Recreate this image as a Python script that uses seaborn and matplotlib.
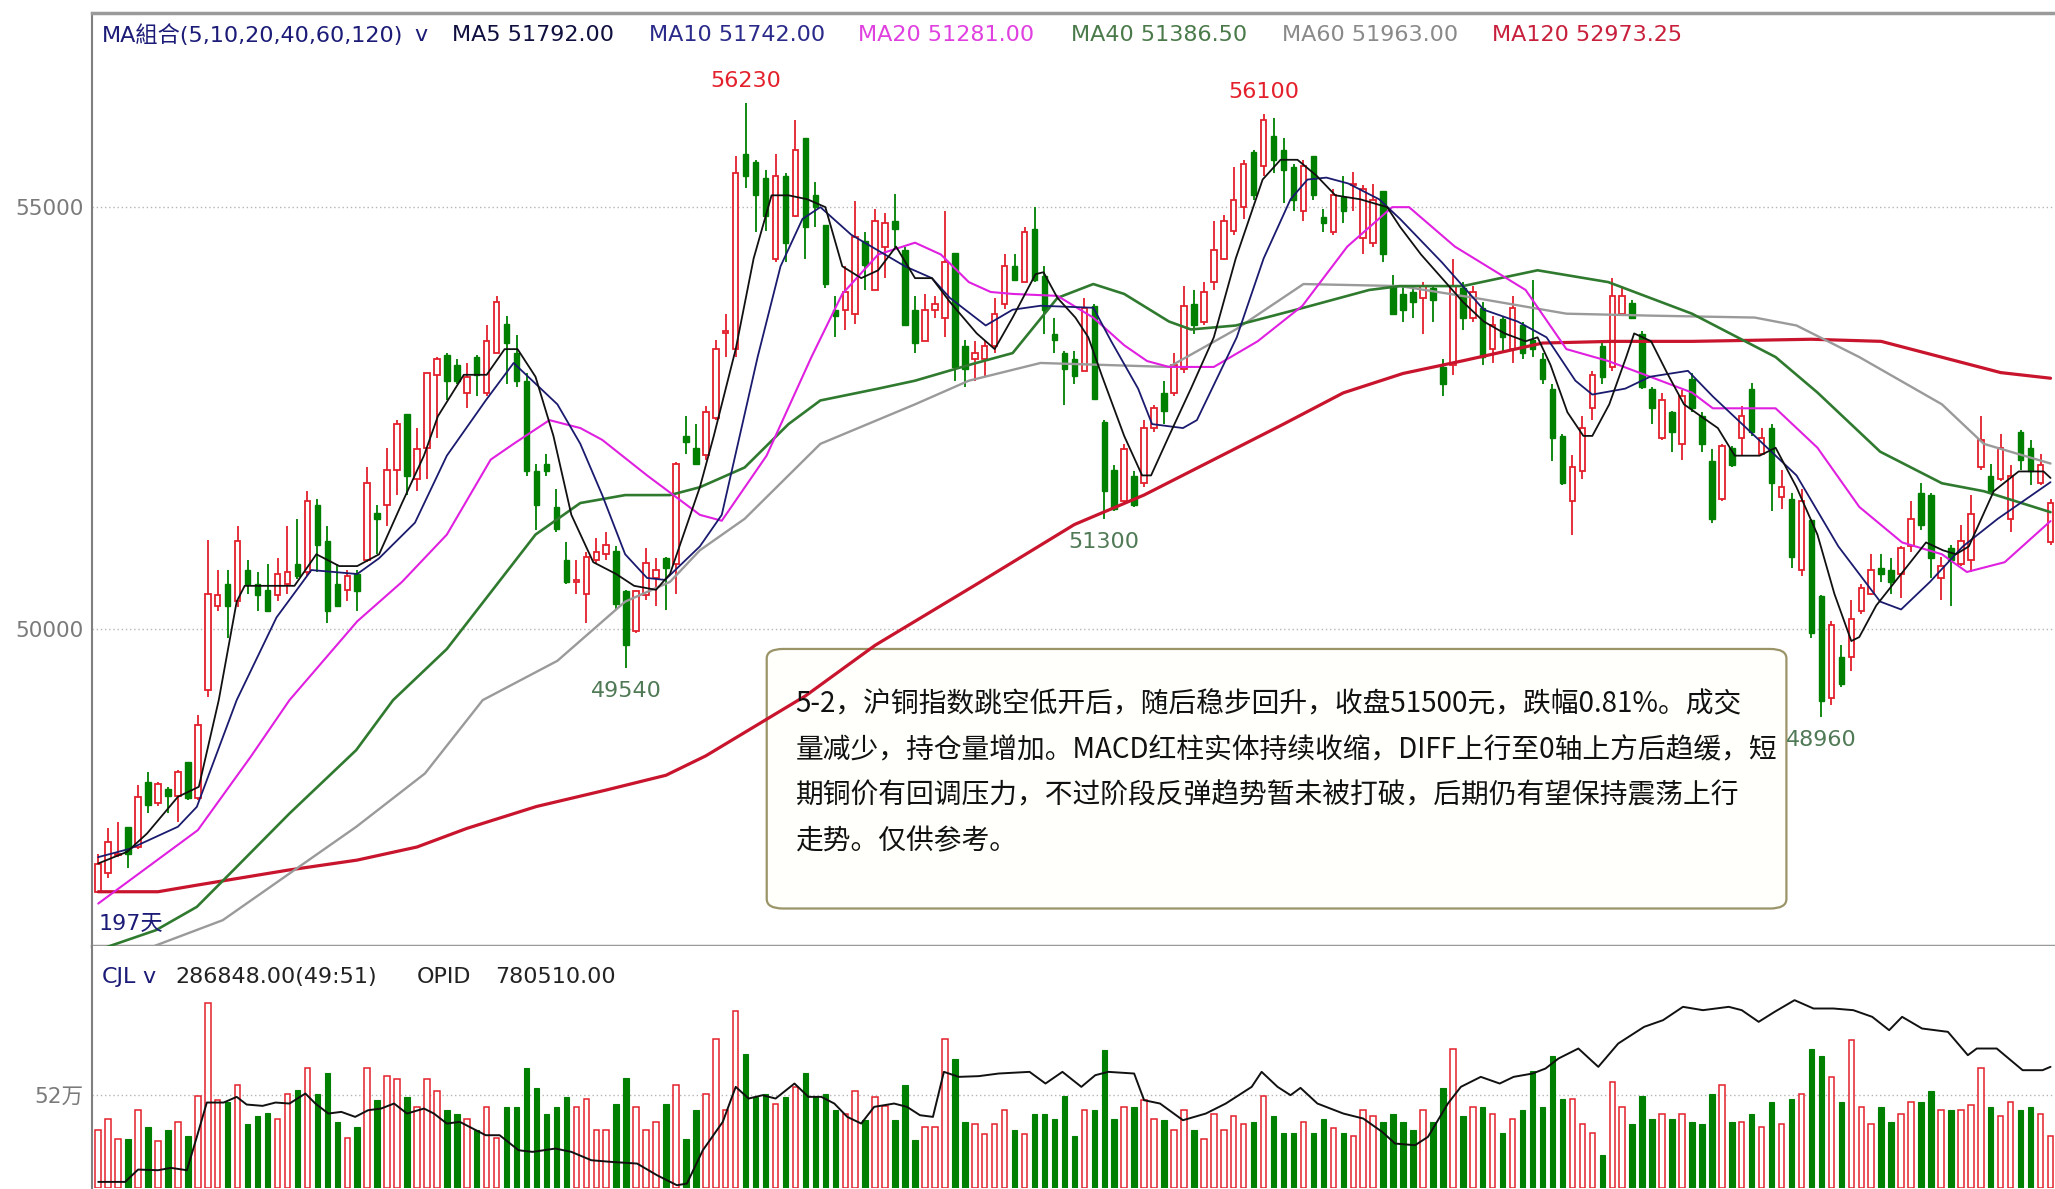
import numpy as np
import seaborn as sns
import matplotlib.pyplot as plt
from matplotlib import font_manager
from matplotlib.patches import FancyBboxPatch

# 沪铜指数日K线, 197根, 数值按截图估读
opens = [46890, 47110, 47320, 47660, 47420, 48190, 47940, 48110, 48020, 48430,
         48000, 49280, 50280, 50540, 50330, 50700, 50540, 50470, 50400, 50540,
         50770, 50680, 51470, 51050, 50540, 50470, 50650, 50820, 51380, 51470,
         51890, 52550, 51780, 52150, 53010, 53250, 53130, 52800, 53220, 52800,
         53270, 53620, 53270, 52940, 51870, 51960, 51450, 50820, 50560, 50420,
         50820, 50890, 50930, 50450, 49980, 50400, 50610, 50840, 50770, 52290,
         52150, 52060, 52500, 53510, 53320, 55630, 55540, 55350, 54390, 55370,
         54900, 55820, 55140, 54790, 53780, 53780, 53740, 54600, 54020, 54530,
         54840, 54490, 53780, 53410, 53780, 53690, 54460, 53360, 53200, 53200,
         53360, 53850, 54300, 54110, 54740, 54180, 53500, 53270, 53200, 53060,
         53830, 52450, 51890, 51520, 51820, 51730, 52380, 52800, 52800, 53080,
         53850, 53640, 54110, 54390, 54720, 55000, 55650, 55490, 55840, 55680,
         55470, 54950, 55610, 54880, 54700, 55120, 55260, 54630, 54580, 55190,
         54070, 53970, 54000, 53920, 54040, 53110, 53130, 54040, 53690, 53810,
         53320, 53670, 53320, 53600, 53430, 53200, 52850, 52290, 51520, 51870,
         52620, 53360, 53110, 53740, 53860, 53500, 52850, 52270, 52570, 52200,
         52970, 52520, 51990, 51540, 52150, 52270, 52850, 52080, 52380, 51570,
         51540, 50700, 51290, 50390, 49180, 49670, 49670, 50210, 50420, 50720,
         50700, 50650, 50980, 51610, 51590, 50610, 50960, 50770, 50820, 51920,
         51820, 51780, 51310, 52340, 52150, 51730, 51030]
highs = [47340, 47640, 47720, 47660, 48150, 48310, 48190, 48130, 48330, 48430,
         48980, 51060, 50700, 50700, 51220, 50820, 50680, 50770, 50840, 51220,
         51310, 51640, 51540, 51220, 50770, 50700, 50700, 51920, 51470, 52150,
         52480, 52550, 52380, 53040, 53220, 53270, 53200, 53150, 53250, 53600,
         53950, 53710, 53480, 53040, 51960, 52080, 51660, 51030, 50820, 50910,
         51080, 51150, 50980, 50470, 50470, 50960, 50840, 50860, 51980, 52520,
         52430, 52640, 53430, 53740, 55610, 56230, 55560, 55440, 55630, 55400,
         56030, 55820, 55300, 54790, 53950, 54300, 55070, 54700, 54980, 54930,
         55160, 54530, 53950, 53970, 53950, 54950, 54460, 53430, 53410, 53410,
         53920, 54440, 54440, 54770, 55000, 54300, 53690, 53290, 53300, 53920,
         53850, 52480, 51940, 52200, 51870, 52480, 52660, 52940, 53270, 54060,
         54020, 54110, 54840, 54910, 55470, 55560, 55680, 56100, 56060, 55820,
         55510, 55560, 55610, 54980, 55210, 55370, 55420, 55260, 55280, 55190,
         54200, 54070, 54070, 54110, 54070, 53200, 54390, 54110, 54070, 53880,
         53710, 53710, 53950, 53640, 54140, 53270, 52900, 52310, 52060, 52520,
         53060, 53390, 54160, 54070, 53900, 53530, 52870, 52800, 52590, 52830,
         53040, 52570, 52130, 52200, 52170, 52640, 52920, 52380, 52430, 51890,
         51610, 51660, 51310, 50400, 50100, 49810, 50350, 50530, 50890, 50890,
         50840, 50980, 51520, 51730, 51610, 50860, 51000, 51240, 51590, 52520,
         51960, 52310, 51940, 52360, 52240, 52080, 51540]
lows = [46870, 47050, 47300, 47170, 47400, 47820, 47900, 47820, 47720, 47980,
        47980, 49200, 50210, 49900, 50260, 50420, 50210, 50210, 50330, 50420,
        50600, 50630, 50680, 50070, 50280, 50330, 50210, 50800, 50890, 51220,
        51590, 51590, 51640, 51780, 52270, 52710, 52900, 52620, 52760, 52760,
        53270, 52900, 52870, 51820, 51170, 51820, 51150, 50540, 50420, 50070,
        50790, 50820, 50230, 49540, 49960, 50350, 50280, 50230, 50420, 52080,
        51940, 52010, 52480, 53220, 53220, 55230, 54700, 54720, 54350, 54350,
        54880, 54390, 54770, 54040, 53460, 53550, 53620, 54020, 54020, 54160,
        54530, 53600, 53270, 53410, 53690, 53460, 52940, 52870, 52940, 52990,
        53270, 53790, 54140, 54110, 54110, 53500, 53270, 52660, 52900, 53060,
        52710, 51300, 51400, 51500, 51450, 51680, 52340, 52430, 52760, 53040,
        53500, 53600, 54020, 54370, 54670, 54860, 55090, 55370, 55400, 55050,
        54950, 54840, 55090, 54700, 54670, 54810, 54950, 54440, 54530, 54350,
        53740, 53640, 53690, 53500, 53640, 52760, 53010, 53550, 53640, 53130,
        53150, 53270, 53150, 53200, 53220, 52900, 51990, 51710, 51120, 51780,
        52480, 52900, 53060, 53720, 53670, 52850, 52430, 52240, 52100, 52010,
        52570, 52100, 51260, 51520, 51920, 52060, 52290, 52060, 51400, 51420,
        50720, 50630, 49900, 48960, 49100, 49320, 49510, 50180, 50400, 50560,
        50420, 50370, 50910, 51170, 50610, 50350, 50280, 50750, 50680, 51890,
        51610, 51750, 51150, 51890, 51710, 51710, 51000]
closes = [47220, 47480, 47340, 47340, 48010, 47920, 48170, 48020, 48310, 48000,
          48870, 50420, 50400, 50280, 51050, 50540, 50400, 50210, 50650, 50680,
          50630, 51520, 51000, 50210, 50280, 50630, 50450, 51730, 51310, 51890,
          52430, 51820, 52130, 53040, 53200, 52940, 52940, 52990, 53010, 53410,
          53880, 53390, 52940, 51870, 51470, 51870, 51190, 50560, 50580, 50860,
          50910, 51000, 50300, 49810, 50450, 50790, 50700, 50720, 51960, 52220,
          51960, 52570, 53320, 53530, 55400, 55370, 55140, 54900, 55370, 54580,
          55680, 54770, 55000, 54090, 53710, 53990, 54650, 54320, 54840, 54810,
          54740, 53600, 53390, 53780, 53850, 54350, 53110, 53080, 53270, 53360,
          53740, 54300, 54140, 54700, 54140, 53780, 53430, 53080, 53000, 53810,
          52730, 51640, 51420, 52130, 51470, 52380, 52620, 52590, 53130, 53830,
          53600, 53990, 54490, 54840, 55090, 55510, 55140, 56030, 55560, 55440,
          55090, 55490, 55140, 54810, 55140, 54950, 55280, 55210, 55090, 54440,
          53740, 53780, 53880, 54070, 53900, 52900, 54070, 53690, 54000, 53220,
          53600, 53460, 53810, 53270, 53320, 52970, 52270, 51730, 51920, 52380,
          53010, 52990, 53950, 53950, 53690, 52870, 52620, 52710, 52340, 52760,
          52620, 52200, 51310, 52170, 51940, 52520, 52340, 52270, 51730, 51680,
          50860, 51520, 49950, 49150, 50050, 49350, 50120, 50490, 50700, 50650,
          50560, 50960, 51310, 51240, 50840, 50750, 50820, 51050, 51360, 52240,
          51640, 52150, 51820, 52010, 51870, 51940, 51500]

# 均线 (K线序号, 数值)
ma5 = [(0, 47225), (2.9, 47363), (4.9, 47580), (8, 48015), (10.1, 48133), (12.1, 49160),
       (13.9, 50327), (14.7, 50514), (19.7, 50514), (21.9, 50888), (24.2, 50748), (26, 50748),
       (28.2, 50888), (30.5, 51495), (32.7, 52056), (34.1, 52523), (36.7, 53014), (39, 53014),
       (40.8, 53318), (42.1, 53318), (43.9, 52991), (45.7, 52290), (47.5, 51355), (49.7, 50794),
       (52, 50654), (53.8, 50514), (56, 50467), (57.4, 50654), (60.4, 51682), (61.8, 52290),
       (64, 53318), (65.8, 54392), (67.6, 55140), (69.3, 55140), (71.2, 55093), (73, 55000),
       (74.7, 54299), (76.6, 54159), (78.3, 54252), (80.1, 54533), (82, 54159), (83.7, 54159),
       (85.5, 53878), (88.2, 53504), (90, 53318), (91.8, 53692), (94.1, 54206), (94.9, 54229),
       (96.3, 53925), (98.1, 53692), (99.4, 53458), (100.8, 52991), (103, 52290), (104.8, 51822),
       (105.7, 51822), (107.5, 52290), (109.7, 52850), (112, 53458), (114.2, 54392), (116.9, 55327),
       (118.7, 55561), (120.4, 55561), (122.3, 55374), (124.2, 55140), (126.7, 55093), (129.4, 55000),
       (130.7, 54766), (132.8, 54439), (134.9, 54159), (137, 53878), (139.1, 53645), (141.2, 53504),
       (143.3, 53411), (144.5, 53458), (145.8, 53131), (147.5, 52570), (149.1, 52290), (150, 52290),
       (151.7, 52664), (153.4, 53224), (154.2, 53504), (155.9, 53411), (157.5, 53037), (159.2, 52664),
       (160.9, 52523), (162.6, 52383), (164.3, 52056), (166.8, 52056), (168.4, 52150), (170.5, 51682),
       (172.6, 51121), (174.3, 50420), (176, 49860), (176.8, 49907), (178.5, 50280), (181, 50654),
       (183.5, 51028), (185.2, 50935), (186.5, 50888), (187.8, 50981), (190.3, 51635), (192.8, 51869),
       (195.3, 51869), (196, 51792)]
ma10 = [(0, 47300), (3.2, 47400), (8, 47660), (9.9, 47896), (13.9, 49160), (17.9, 50140),
        (21.4, 50701), (26, 50654), (28.2, 50841), (31.8, 51262), (35, 52056), (38.9, 52710),
        (41.7, 53154), (46.1, 52664), (48.4, 52196), (50.6, 51589), (52.9, 50888), (55.1, 50607),
        (56.9, 50584), (60.4, 50981), (62.6, 51355), (66.2, 53224), (68.5, 54299), (70.7, 54860),
        (72.5, 55000), (75.6, 54673), (78.3, 54486), (81, 54299), (83.7, 54159), (85.5, 53925),
        (89.1, 53598), (91.8, 53785), (94.6, 53832), (99.9, 53808), (101.7, 53411), (104.4, 52850),
        (105.8, 52430), (108.9, 52383), (110.3, 52477), (114.3, 53458), (117, 54392), (119.7, 55093),
        (121.4, 55327), (123.3, 55350), (125.5, 55280), (128.6, 55093), (130.7, 54860), (134.9, 54346),
        (139.1, 53785), (142.5, 53645), (145.4, 53458), (148.3, 52944), (150, 52780), (153.3, 52850),
        (155.8, 52991), (159.6, 53061), (162.1, 52757), (166.3, 52290), (170.5, 51822), (174.7, 50981),
        (178.9, 50327), (181, 50234), (183.9, 50561), (187.2, 50981), (190.7, 51308), (196, 51742)]
ma20 = [(0, 46750), (10, 47620), (15.3, 48488), (19.2, 49160), (26, 50093), (30.5, 50561),
        (35, 51121), (39.4, 52009), (41.7, 52196), (45.3, 52477), (48.4, 52383), (50.6, 52243),
        (55.1, 51822), (60.4, 51355), (62.6, 51285), (67.1, 52056), (71.6, 53224), (74.7, 53972),
        (78.3, 54439), (82, 54579), (84.6, 54439), (87.4, 54112), (89.6, 53995), (91.8, 53972),
        (96.3, 53949), (99.9, 53691), (103, 53364), (105.3, 53177), (107.5, 53107), (112, 53107),
        (116.4, 53411), (120.9, 53832), (125.4, 54533), (129.9, 55000), (131.6, 55000), (136.2, 54533),
        (143.3, 54019), (147.4, 53318), (151.6, 53177), (155.8, 52991), (160, 52804), (162.1, 52617),
        (168.4, 52617), (172.6, 52150), (176.8, 51449), (181.1, 51028), (185.1, 50888), (187.6, 50678),
        (191.4, 50794), (196, 51281)]
ma40 = [(0, 46200), (5.8, 46435), (9.9, 46711), (13.9, 47185), (19.2, 47817), (25.9, 48568),
        (29.6, 49160), (35, 49766), (43.9, 51121), (48.4, 51495), (52.9, 51589), (57.4, 51589),
        (60.4, 51682), (64.9, 51916), (69.3, 52430), (72.5, 52710), (78.3, 52850), (82, 52944),
        (87.4, 53130), (91.8, 53271), (96.3, 53925), (99.9, 54089), (103, 53972), (107.5, 53645),
        (109.7, 53551), (114.2, 53598), (121, 53808), (127.6, 54019), (130.7, 54065), (137, 54065),
        (144.5, 54252), (151.6, 54112), (160, 53738), (168.4, 53224), (172.6, 52804), (178.9, 52103),
        (185.1, 51729), (189.3, 51635), (196, 51386.5)]
ma60 = [(0, 46180), (5.4, 46237), (12.5, 46553), (19.2, 47106), (25.9, 47659), (32.8, 48291),
        (38.6, 49160), (46.1, 49626), (52.9, 50327), (57.4, 50561), (60.4, 50935), (64.9, 51308),
        (72.5, 52196), (82, 52664), (87.4, 52944), (94.6, 53154), (107.5, 53107), (114.2, 53551),
        (121, 54089), (130.7, 54065), (138.2, 53925), (147.4, 53738), (155.8, 53715), (166.3, 53692),
        (170.5, 53598), (176.8, 53224), (185.1, 52664), (189.3, 52196), (196, 51963)]
ma120 = [(0, 46890), (6, 46890), (10, 46970), (19, 47145), (26, 47265), (32, 47420),
         (37, 47640), (44, 47900), (51, 48095), (57, 48270), (61, 48500), (71, 49210),
         (78, 49810), (88, 50520), (98, 51240), (105, 51590), (112, 52010), (119, 52430),
         (125, 52800), (131, 53030), (137, 53180), (145, 53390), (152, 53410), (160, 53410),
         (172, 53435), (179, 53410), (185, 53225), (191, 53040), (196, 52973.25)]

# 成交量 (手)
volume = [321000, 383000, 274000, 274000, 433000, 340000, 260000, 321000, 368000, 289000,
          513000, 1034000, 489000, 479000, 572000, 353000, 401000, 420000, 383000, 526000,
          545000, 669000, 526000, 638000, 368000, 278000, 340000, 669000, 489000, 623000,
          608000, 507000, 451000, 608000, 539000, 433000, 414000, 383000, 321000, 451000,
          280000, 451000, 451000, 669000, 558000, 414000, 451000, 507000, 451000, 498000,
          321000, 321000, 465000, 610000, 451000, 321000, 368000, 465000, 576000, 274000,
          433000, 526000, 830000, 433000, 988000, 749000, 507000, 526000, 470000, 507000,
          563000, 638000, 507000, 522000, 433000, 414000, 539000, 377000, 507000, 458000,
          377000, 576000, 265000, 340000, 340000, 830000, 721000, 368000, 358000, 302000,
          358000, 433000, 321000, 302000, 414000, 414000, 386000, 513000, 289000, 433000,
          433000, 768000, 386000, 451000, 451000, 489000, 386000, 377000, 321000, 433000,
          321000, 274000, 414000, 321000, 401000, 353000, 368000, 513000, 401000, 308000,
          308000, 368000, 308000, 386000, 336000, 308000, 289000, 433000, 401000, 368000,
          414000, 368000, 321000, 433000, 368000, 559000, 777000, 401000, 451000, 451000,
          414000, 308000, 386000, 433000, 651000, 451000, 736000, 494000, 494000, 358000,
          308000, 181000, 591000, 451000, 358000, 513000, 386000, 414000, 386000, 414000,
          368000, 358000, 526000, 573000, 368000, 368000, 414000, 340000, 479000, 358000,
          494000, 526000, 777000, 736000, 619000, 479000, 824000, 451000, 358000, 451000,
          368000, 414000, 479000, 479000, 541000, 433000, 433000, 433000, 461000, 666000,
          451000, 401000, 479000, 433000, 451000, 414000, 286848]

# 持仓量 OPID (K线序号, 数值)
opid = [(0, 539000), (2.7, 539000), (4, 564900), (6, 563500), (7.3, 568400), (8.9, 563500),
        (9.9, 633500), (10.9, 705600), (12.6, 705600), (13.9, 717500), (14.9, 701400), (16.5, 698600),
        (17.8, 705600), (19.2, 703500), (20.8, 724500), (21.8, 703500), (23.1, 682500), (24.4, 686000),
        (25.8, 675500), (27.1, 689500), (28.4, 693000), (29.7, 703500), (31, 682500), (32.7, 693000),
        (33.7, 682500), (35, 661500), (36.3, 665000), (37.6, 651000), (38.9, 637000), (40.3, 637000),
        (42.2, 605500), (43.6, 602000), (45.9, 609000), (47.5, 602000), (49.5, 584500), (51.5, 581000),
        (54.1, 577500), (56.1, 553000), (58.1, 532000), (59.1, 535500), (60.7, 605500), (62.7, 665000),
        (64, 738500), (65.3, 714000), (66.7, 721000), (68, 714000), (69.9, 745500), (71.3, 717500),
        (72.6, 717500), (73.9, 703500), (75.2, 675500), (76.6, 661500), (77.9, 696500), (79.9, 703500),
        (81.2, 696500), (82.5, 679000), (83.8, 675500), (84.9, 770000), (86.4, 759500), (88.4, 761000),
        (90.4, 766500), (93.5, 770000), (95.1, 745500), (96.8, 770000), (98.7, 738500), (100.1, 763000),
        (101.4, 770000), (104, 766500), (105, 710500), (106.6, 703500), (108.9, 668500), (111.2, 682500),
        (113.2, 703500), (115.8, 738500), (116.8, 770000), (118.4, 738500), (119.7, 721000), (120.7, 736400),
        (122.4, 703500), (123.7, 693000), (125, 682500), (127, 672000), (128.9, 644000), (130.2, 619500),
        (132.2, 616000), (133.5, 633500), (135.5, 703500), (136.8, 738500), (138.8, 759500), (140.7, 745500),
        (142.1, 759500), (144, 766500), (145.3, 777000), (146.6, 798000), (148.6, 819000), (150.6, 780500),
        (152.6, 829500), (155.2, 864500), (157.1, 878500), (159.1, 906500), (161.1, 899500), (163.7, 906500),
        (165, 899500), (166.7, 875000), (168.3, 896000), (170.3, 920500), (172.2, 903000), (174.2, 903000),
        (176.2, 899500), (178.1, 885500), (179.8, 857500), (181.1, 885500), (183.1, 861000), (185.7, 854000),
        (187.7, 805000), (188.6, 819000), (190.6, 819000), (193.2, 773500), (195.2, 773500), (196, 780510)]

peak_idx = [65, 117]
trough_idx = [53, 101, 173]

note = ("5-2，沪铜指数跳空低开后，随后稳步回升，收盘51500元，跌幅0.81%。成交\n"
        "量减少，持仓量增加。MACD红柱实体持续收缩，DIFF上行至0轴上方后趋缓，短\n"
        "期铜价有回调压力，不过阶段反弹趋势暂未被打破，后期仍有望保持震荡上行\n"
        "走势。仅供参考。")

RED = '#e3202c'
GREEN = '#008000'
NAVY = '#1c1c78'
GREY = '#8a8a8a'

sns.set_theme(style='white')
names = {f.name for f in font_manager.fontManager.ttflist}
narrow = 'Liberation Sans Narrow' in names
latin = 'Liberation Sans Narrow' if narrow else 'DejaVu Sans'
fs = 21 if narrow else 16
tick_fs = 21 if narrow else 15.5
plt.rcParams['font.family'] = [latin, 'Noto Sans CJK SC']

o, h, l, c = map(np.array, (opens, highs, lows, closes))
x = np.arange(len(c))
up = c >= o
cols = np.where(up, RED, GREEN)

fig = plt.figure(figsize=(20.55, 11.89), dpi=100)
ax = fig.add_axes([0.0446, 0.2040, 0.9554, 0.7850])
axv = fig.add_axes([0.0446, 0.0011, 0.9554, 0.2029])

# K线
ax.vlines(x, l, h, colors=cols, linewidth=1.3, zorder=2)
lo = np.minimum(o, c)
hgt = np.maximum(np.abs(c - o), 14)
ax.bar(x[up], hgt[up], bottom=lo[up], width=0.55, facecolor='white',
       edgecolor=RED, linewidth=1.3, zorder=3)
ax.bar(x[~up], hgt[~up], bottom=lo[~up], width=0.55, facecolor=GREEN,
       edgecolor=GREEN, linewidth=1.0, zorder=3)

ma_style = [(ma120, '#c8142c', 2.3), (ma60, '#9a9a9a', 1.7), (ma40, '#2f7a2f', 1.9),
            (ma20, '#e020e0', 1.5), (ma10, '#1a1a6e', 1.3), (ma5, '#111111', 1.3)]
for pts, col, lw in ma_style:
    px, pv = zip(*pts)
    sns.lineplot(x=list(px), y=list(pv), ax=ax, color=col, linewidth=lw,
                 estimator=None, zorder=4)

ax.set_xlim(-0.66, 196.45)
ax.set_ylim(46242, 57299)
ax.set_yticks([50000, 55000])
ax.set_yticklabels(['50000', '55000'])
ax.set_xticks([])
ax.grid(axis='y', linestyle=(0, (1, 2)), color='#b5b5b5', linewidth=1.0)
ax.tick_params(axis='y', length=0, pad=6, labelsize=tick_fs, labelcolor='#7a7a7a')
for s in ['top', 'bottom']:
    ax.spines[s].set_color('#9a9a9a')
    ax.spines[s].set_linewidth(2.5)
ax.spines['left'].set_color('#808080')
ax.spines['left'].set_linewidth(1.5)
ax.spines['right'].set_visible(False)

# 高低点标注
for i in peak_idx:
    ax.annotate(f'{h[i]}', (i, h[i]), xytext=(0, 9), textcoords='offset points',
                ha='center', va='bottom', color=RED, fontsize=fs)
for i in trough_idx:
    ax.annotate(f'{l[i]}', (i, l[i]), xytext=(0, -9), textcoords='offset points',
                ha='center', va='top', color='#4f7a55', fontsize=fs)

# 文字框
box = FancyBboxPatch((0.3731, 0.2359), 0.4962, 0.2183, transform=fig.transFigure,
                     boxstyle='round,pad=0,rounding_size=0.008', facecolor='#fffffb',
                     edgecolor='#9a9468', linewidth=1.6, zorder=1.5)
ax.add_patch(box)
ax.text(0.3871, 0.4200, note, transform=fig.transFigure, ha='left', va='top',
        fontsize=20, linespacing=1.68, color='#111111', zorder=6,
        family=['Noto Sans CJK SC', 'DejaVu Sans'])

ax.text(0.048, 0.2227, '197天', transform=fig.transFigure, ha='left', va='center',
        color=NAVY, fontsize=fs, zorder=6)

# 顶部均线说明
header = [(0.0497, 'MA組合(5,10,20,40,60,120)', NAVY),
          (0.2015, 'v', NAVY),
          (0.2200, f'MA5 {ma5[-1][1]:.2f}', '#101040'),
          (0.3157, f'MA10 {ma10[-1][1]:.2f}', '#2a2a8a'),
          (0.4177, f'MA20 {ma20[-1][1]:.2f}', '#e040e0'),
          (0.5210, f'MA40 {ma40[-1][1]:.2f}', '#4a7a4a'),
          (0.6237, f'MA60 {ma60[-1][1]:.2f}', GREY),
          (0.7258, f'MA120 {ma120[-1][1]:.2f}', '#c8203c')]
for xf, txt, col in header:
    fig.text(xf, 0.9702, txt, color=col, fontsize=fs, ha='left', va='center')

# 成交量
axv.bar(x[up], np.array(volume)[up], width=0.55, facecolor='white', edgecolor=RED,
        linewidth=1.1, zorder=2)
axv.bar(x[~up], np.array(volume)[~up], width=0.55, facecolor=GREEN, edgecolor=GREEN,
        linewidth=0.8, zorder=2)
axv.set_xlim(-0.66, 196.45)
axv.set_ylim(0, 1347600)
axv.set_yticks([520000])
axv.set_yticklabels(['52万'])
axv.set_xticks([])
axv.grid(axis='y', linestyle=(0, (1, 2)), color='#b5b5b5', linewidth=1.0)
axv.tick_params(axis='y', length=0, pad=6, labelsize=tick_fs, labelcolor='#7a7a7a')
for s in ['top', 'bottom', 'right']:
    axv.spines[s].set_visible(False)
axv.spines['left'].set_color('#808080')
axv.spines['left'].set_linewidth(1.5)

axo = axv.twinx()
qx, qv = zip(*opid)
sns.lineplot(x=list(qx), y=list(qv), ax=axo, color='#111111', linewidth=1.4,
             estimator=None, zorder=3)
axo.set_xlim(-0.66, 196.45)
axo.set_ylim(526830, 1033280)
axo.axis('off')

vol_header = [(0.0497, 'CJL', NAVY), (0.0695, 'v', NAVY),
              (0.0855, f'{volume[-1]:.2f}(49:51)', '#222222'),
              (0.2028, 'OPID', '#222222'), (0.2411, f'{opid[-1][1]:.2f}', '#222222')]
for xf, txt, col in vol_header:
    fig.text(xf, 0.1786, txt, color=col, fontsize=fs, ha='left', va='center')

fig.savefig('out.png', dpi=100, facecolor='white')
